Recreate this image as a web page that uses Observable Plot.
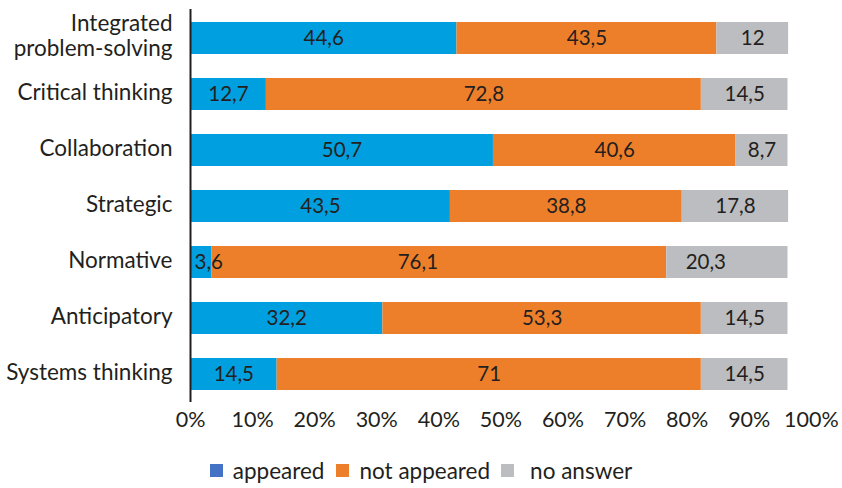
<!DOCTYPE html>
<html>
<head>
<meta charset="utf-8">
<script src="https://cdn.jsdelivr.net/npm/d3@7"></script>
<script src="https://cdn.jsdelivr.net/npm/@observablehq/plot@0.6"></script>
<style>
  body { margin: 0; background: #fff; font-family: Lato, "Open Sans", sans-serif; color: #231F20; }
  #legend { display: flex; justify-content: center; align-items: center; font-size: 22.5px; margin-top: 12px; }
  .item { display: flex; align-items: center; }
  .sw { width: 13px; height: 13px; display: inline-block; margin-right: 10px; }
</style>
</head>
<body>
<div id="chart"></div>
<div id="legend"></div>
<script>
const categories = ["Integrated problem-solving", "Critical thinking", "Collaboration", "Strategic", "Normative", "Anticipatory", "Systems thinking"];
const seriesNames = ["appeared", "not appeared", "no answer"];
const appeared = [44.6, 12.7, 50.7, 43.5, 3.6, 32.2, 14.5];
const notAppeared = [43.5, 72.8, 40.6, 38.8, 76.1, 53.3, 71];
const noAnswer = [12, 14.5, 8.7, 17.8, 20.3, 14.5, 14.5];
const tickLabels = [0, 10, 20, 30, 40, 50, 60, 70, 80, 90, 100];

const barColors = ["#009FDF", "#EE7F2A", "#BCBDC0"];
const legendColors = ["#4472C4", "#EE7F2A", "#BCBDC0"];
const tickStretch = 1.039;

const values = [appeared, notAppeared, noAnswer];
const data = [];
categories.forEach((c, i) => {
  seriesNames.forEach((s, j) => data.push({category: c, series: s, value: values[j][i]}));
});
const fmt = v => String(v).replace(".", ",");
const labelFmt = c => c === "Integrated problem-solving" ? "Integrated\nproblem-solving" : c;

const stackOpts = {x: "value", y: "category", z: "series", order: seriesNames};

const plot = Plot.plot({
  width: 842,
  height: 445,
  marginLeft: 190,
  marginRight: 54.5,
  marginTop: 9,
  marginBottom: 43,
  style: {fontFamily: "Lato, 'Open Sans', sans-serif", color: "#231F20", background: "#fff"},
  x: {domain: [0, 100], axis: null},
  y: {domain: categories, padding: 0.43, paddingOuter: 0.215, axis: null},
  color: {domain: seriesNames, range: barColors},
  marks: [
    Plot.barX(data, Plot.stackX({...stackOpts, fill: "series"})),
    Plot.text(data, Plot.stackX({...stackOpts, filter: d => d.value >= 5, text: d => fmt(d.value), fill: "#231F20", fontSize: 20.5})),
    Plot.text(data, Plot.stackX1({...stackOpts, filter: d => d.value < 5, text: d => fmt(d.value), fill: "#231F20", fontSize: 20.5, textAnchor: "start", dx: 4})),
    Plot.axisY({label: null, tickSize: 0, tickPadding: 18, fontSize: 22.5, tickFormat: labelFmt, lineHeight: 1.12, dy: -3, color: "#231F20"}),
    Plot.axisX({label: null, ticks: tickLabels.map(t => t * tickStretch), tickFormat: t => Math.round(t / tickStretch) + "%", tickSize: 0, tickPadding: 9, fontSize: 21.5, color: "#231F20"}),
    Plot.ruleX([0], {stroke: "#231F20", strokeWidth: 2})
  ]
});
document.getElementById("chart").appendChild(plot);

const legend = document.getElementById("legend");
const gaps = [12, 11, 0];
seriesNames.forEach((s, i) => {
  const item = document.createElement("span");
  item.className = "item";
  item.style.marginRight = gaps[i] + "px";
  const sw = document.createElement("span");
  sw.className = "sw";
  sw.style.background = legendColors[i];
  if (i === 2) sw.style.marginRight = "16px";
  item.appendChild(sw);
  item.appendChild(document.createTextNode(s));
  legend.appendChild(item);
});
</script>
</body>
</html>
